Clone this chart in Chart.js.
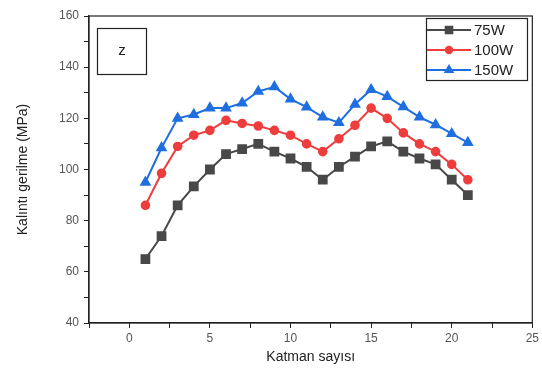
<!DOCTYPE html>
<html>
<head>
<meta charset="utf-8">
<script src="https://cdn.jsdelivr.net/npm/chart.js@4.4.0/dist/chart.umd.min.js"></script>
<style>
  html, body { margin: 0; padding: 0; background: #fff; }
  #wrap { width: 542px; height: 372px; }
</style>
</head>
<body>
<div id="wrap"><canvas id="stressChart" width="542" height="372"></canvas></div>
<script>
// Katman numbers (layers)
const layers = [1, 2, 3, 4, 5, 6, 7, 8, 9, 10, 11, 12, 13, 14, 15, 16, 17, 18, 19, 20, 21];

// Residual stress values (MPa)
const w75 = [65, 74, 86, 93.4, 100, 106, 108, 110, 107, 104.3, 101, 96, 101, 105, 109, 111, 107, 104.3, 102, 96, 90];
const w100 = [86, 98.5, 109, 113.4, 115.3, 119.2, 118, 117, 115.3, 113.4, 110, 107, 112, 117.3, 124, 120, 114.3, 110, 107, 102, 96];
const w150 = [95, 108.5, 120, 121.5, 124, 124, 126, 130.5, 132.3, 127.5, 124.4, 120.5, 118.3, 125.5, 131.2, 128.5, 124.5, 120.5, 117.5, 114, 110.5];

const seriesLabels = ['75W', '100W', '150W'];
const seriesColors = ['#484848', '#ee3d3d', '#1f6fe0'];
const seriesMarkers = ['rect', 'circle', 'triangle'];
const markerSizes = [5.5, 3.8, 4.8];

const xTicks = [0, 5, 10, 15, 20, 25];
const yTicks = [40, 60, 80, 100, 120, 140, 160];

function toPoints(vals) {
    return layers.map((x, i) => ({ x: x, y: vals[i] }));
}

// frame, "z" box and legend
const decorPlugin = {
    id: 'decor',
    afterDraw(chart) {
        const ctx = chart.ctx;
        const a = chart.chartArea;
        ctx.save();
        ctx.strokeStyle = '#222';
        ctx.lineWidth = 1.2;
        ctx.strokeRect(a.left, a.top, a.right - a.left, a.bottom - a.top);

        // z box
        ctx.strokeRect(97.5, 28.5, 49, 46);
        ctx.fillStyle = '#222';
        ctx.font = '15px "Liberation Sans", Arial, sans-serif';
        ctx.textAlign = 'center';
        ctx.textBaseline = 'middle';
        ctx.fillText('z', 122, 51);

        // legend
        ctx.strokeRect(426.5, 18.5, 101, 62);
        ctx.font = '15px "Liberation Sans", Arial, sans-serif';
        ctx.textAlign = 'left';
        chart.data.datasets.forEach((ds, i) => {
            const y = 30 + i * 20;
            ctx.strokeStyle = ds.borderColor;
            ctx.lineWidth = 2;
            ctx.beginPath();
            ctx.moveTo(427, y);
            ctx.lineTo(471, y);
            ctx.stroke();
            ctx.fillStyle = ds.borderColor;
            Chart.helpers.drawPoint(ctx, {
                pointStyle: ds.pointStyle,
                radius: ds.pointRadius * 0.85,
                rotation: 0,
                borderWidth: 1
            }, 449, y);
            ctx.fillStyle = '#222';
            ctx.fillText(ds.label, 474, y + 1);
        });
        ctx.restore();
    }
};

const datasets = [w75, w100, w150].map((vals, i) => ({
    label: seriesLabels[i],
    data: toPoints(vals),
    showLine: true,
    fill: false,
    borderColor: seriesColors[i],
    backgroundColor: seriesColors[i],
    pointBackgroundColor: seriesColors[i],
    pointBorderColor: seriesColors[i],
    pointStyle: seriesMarkers[i],
    pointRadius: markerSizes[i],
    borderWidth: 2,
    tension: 0
}));

const tickFont = { family: '"Liberation Sans", Arial, sans-serif', size: 12 };
const titleFont = { family: '"Liberation Sans", Arial, sans-serif', size: 14 };

new Chart(document.getElementById('stressChart'), {
    type: 'scatter',
    data: { datasets: datasets },
    options: {
        responsive: false,
        animation: false,
        layout: { padding: { top: 16, right: 8, left: 0, bottom: 0 } },
        plugins: { legend: { display: false }, tooltip: { enabled: false } },
        scales: {
            x: {
                type: 'linear',
                min: -2.5,
                max: 25,
                afterBuildTicks: s => {
                    const t = [];
                    for (let v = -2.5; v <= 25; v += 2.5) t.push({ value: v });
                    s.ticks = t;
                },
                afterFit: s => { s.height = 49; },
                ticks: {
                    color: '#555',
                    font: tickFont,
                    padding: 3,
                    autoSkip: false,
                    maxRotation: 0,
                    callback: v => xTicks.includes(v) ? String(v) : ''
                },
                grid: { drawOnChartArea: false, drawTicks: true, tickLength: 5, color: '#222' },
                border: { display: true, color: '#222', width: 1.2 },
                title: { display: true, text: 'Katman sayısı', color: '#222', font: titleFont, padding: { top: 2, bottom: 6 } }
            },
            y: {
                type: 'linear',
                min: 40,
                max: 160,
                afterBuildTicks: s => {
                    const t = [];
                    for (let v = 40; v <= 160; v += 10) t.push({ value: v });
                    s.ticks = t;
                },
                afterFit: s => { s.width = 89; },
                ticks: {
                    color: '#555',
                    font: tickFont,
                    padding: 5,
                    autoSkip: false,
                    callback: v => yTicks.includes(v) ? String(v) : ''
                },
                grid: { drawOnChartArea: false, drawTicks: true, tickLength: 5, color: '#222' },
                border: { display: true, color: '#222', width: 1.2 },
                title: { display: true, text: 'Kalıntı gerilme (MPa)', color: '#222', font: titleFont, padding: { top: 15, bottom: 4 } }
            }
        }
    },
    plugins: [decorPlugin]
});
</script>
</body>
</html>
